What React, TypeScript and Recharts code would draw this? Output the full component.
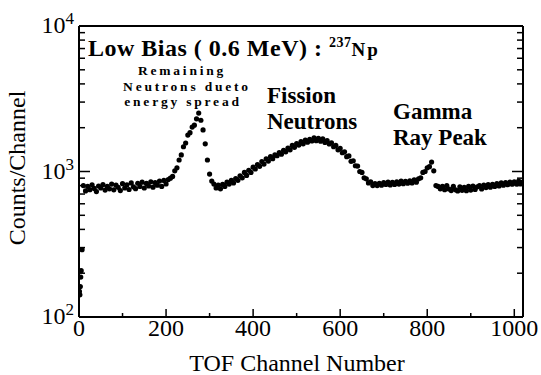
import { Customized, Scatter, ScatterChart, XAxis, YAxis } from "recharts";

// low counts in the first few channels
const edgeChannels = [1, 2, 3, 4, 5, 7];
const edgeCounts = [150, 142, 162, 188, 208, 290];

// counts read every 5 channels; each list starts at its own first channel
const baselineStart = 10;
const baselineCounts = [
  800, 735, 790, 750, 810, 765, 728, 795, 770, 812,
  745, 792, 760, 820, 748, 805, 778, 740, 825, 770,
  808, 752, 835, 785, 762, 830, 790, 845, 770, 828,
  795, 850, 780, 838, 805, 860, 790, 868, 822, 880,
];

const lowPeakStart = 210;
const lowPeakCounts = [
  900, 925, 1010, 1060, 1200, 1300, 1480, 1570, 1780, 1850,
  2020, 2080, 2300, 2520, 2250, 1930, 1550, 1200, 960, 860,
  820, 770, 805, 760,
];

const fissionStart = 330;
const fissionCounts = [
  815, 790, 845, 820, 870, 835, 895, 870, 935, 905,
  985, 940, 1020, 985, 1070, 1040, 1115, 1085, 1170, 1125,
  1220, 1180, 1265, 1225, 1300, 1285, 1350, 1315, 1400, 1365,
  1450, 1410, 1510, 1465, 1555, 1520, 1605, 1550, 1645, 1590,
  1665, 1620, 1705, 1630, 1690, 1615, 1675, 1585, 1630, 1545,
  1575, 1480, 1510, 1410, 1440, 1345, 1365, 1265, 1280, 1175,
  1185, 1095, 1090, 1000, 985, 905, 890, 835, 850, 800,
  825, 800, 830, 805, 838,
];

const gammaStart = 705;
const gammaCounts = [
  815, 845, 808, 842, 815, 850, 820, 858, 825, 855,
  830, 862, 835, 875, 845, 890, 905, 985, 1000, 1060,
  1080, 1160, 1010, 800, 790, 760,
];

const tailStart = 835;
const tailCounts = [
  790, 750, 800, 758, 740, 790, 748, 735, 785, 742,
  778, 738, 790, 745, 795, 752, 785, 800, 758, 805,
  775, 812, 780, 815, 790, 825, 795, 835, 805, 840,
  812, 845, 818, 850, 820, 858, 825, 850,
];

const xTicks = [0, 100, 200, 300, 400, 500, 600, 700, 800, 900, 1000];
const yTicks = [
  100, 200, 300, 400, 500, 600, 700, 800, 900,
  1000, 2000, 3000, 4000, 5000, 6000, 7000, 8000, 9000, 10000,
];

const step = 5;
const points = [
  ...edgeChannels.map((ch, i) => ({ ch, c: edgeCounts[i] })),
  ...[
    [baselineStart, baselineCounts],
    [lowPeakStart, lowPeakCounts],
    [fissionStart, fissionCounts],
    [gammaStart, gammaCounts],
    [tailStart, tailCounts],
  ].flatMap(([start, counts]: any) =>
    counts.map((c: number, i: number) => ({ ch: start + i * step, c }))
  ),
];

const serif = "Liberation Serif, Times New Roman, Times, serif";
const ink = "#000";

const isDecade = (v: number) => Math.abs(Math.log10(v) % 1) < 1e-9;

function BottomTick({ x, y, payload }: any) {
  const major = payload.value % 200 === 0;
  return (
    <g>
      <line x1={x} x2={x} y1={y} y2={y - (major ? 8 : 4)} stroke={ink} strokeWidth={1.5} />
      {major && (
        <text x={x} y={y + 19} textAnchor="middle" style={{ fontFamily: serif, fontSize: 24 }} fill={ink}>
          {payload.value}
        </text>
      )}
    </g>
  );
}

function TopTick({ x, y, payload }: any) {
  const major = payload.value % 200 === 0;
  return <line x1={x} x2={x} y1={y} y2={y + (major ? 8 : 4)} stroke={ink} strokeWidth={1.5} />;
}

function LeftTick({ x, y, payload }: any) {
  const major = isDecade(payload.value);
  return (
    <g>
      <line x1={x} x2={x + (major ? 11 : 6)} y1={y} y2={y} stroke={ink} strokeWidth={1.5} />
      {major && (
        <text x={x - 5} y={y + 7} textAnchor="end" style={{ fontFamily: serif }} fill={ink}>
          <tspan style={{ fontSize: 24 }}>10</tspan>
          <tspan style={{ fontSize: 17 }} dy={-9}>
            {Math.round(Math.log10(payload.value))}
          </tspan>
        </text>
      )}
    </g>
  );
}

function RightTick({ x, y, payload }: any) {
  const major = isDecade(payload.value);
  return <line x1={x} x2={x - (major ? 11 : 6)} y1={y} y2={y} stroke={ink} strokeWidth={1.5} />;
}

function Notes() {
  const bold = { fontFamily: serif, fontWeight: 700 } as const;
  const big = { ...bold, fontSize: 23 };
  const small = { ...bold, fontSize: 13.5, letterSpacing: 2.8 };
  return (
    <g fill={ink}>
      <text x={88} y={56} style={{ ...big, fontSize: 24, letterSpacing: 0.5 }}>
        Low Bias ( 0.6 MeV) :{" "}
        <tspan style={{ fontSize: 14 }} dy={-9}>237</tspan>
        <tspan style={{ fontSize: 19, letterSpacing: 2 }} dy={9}>Np</tspan>
      </text>
      <text textAnchor="middle" style={small}>
        <tspan x={182} y={75}>Remaining</tspan>
        <tspan x={187} y={90.5}>Neutrons dueto</tspan>
        <tspan x={183} y={106}>energy spread</tspan>
      </text>
      <text style={big}>
        <tspan x={267} y={103}>Fission</tspan>
        <tspan x={267} y={129}>Neutrons</tspan>
      </text>
      <text style={big}>
        <tspan x={393} y={119}>Gamma</tspan>
        <tspan x={393} y={145}>Ray Peak</tspan>
      </text>
      <text x={297} y={371} textAnchor="middle" style={{ fontFamily: serif, fontSize: 24 }}>
        TOF Channel Number
      </text>
      <text
        x={0}
        y={0}
        transform="translate(25 168) rotate(-90)"
        textAnchor="middle"
        style={{ fontFamily: serif, fontSize: 24 }}
      >
        Counts/Channel
      </text>
    </g>
  );
}

const axisLine = { stroke: ink, strokeWidth: 2 };

export default function App() {
  return (
    <div style={{ position: "absolute", left: 0, top: 0, width: 541, height: 375, background: "#fff" }}>
      <ScatterChart width={541} height={375} margin={{ top: 25, right: 17, bottom: 57, left: 8 }}>
        <XAxis
          xAxisId="bottom"
          dataKey="ch"
          type="number"
          domain={[0, 1020]}
          allowDataOverflow
          ticks={xTicks}
          interval={0}
          height={1}
          tickSize={0}
          tickMargin={0}
          tickLine={false}
          axisLine={axisLine}
          tick={<BottomTick />}
        />
        <XAxis
          xAxisId="top"
          orientation="top"
          type="number"
          domain={[0, 1020]}
          allowDataOverflow
          ticks={xTicks}
          interval={0}
          height={1}
          tickSize={0}
          tickMargin={0}
          tickLine={false}
          axisLine={axisLine}
          tick={<TopTick />}
        />
        <YAxis
          yAxisId="left"
          dataKey="c"
          type="number"
          scale="log"
          domain={[100, 10000]}
          allowDataOverflow
          ticks={yTicks}
          interval={0}
          width={71}
          tickSize={0}
          tickMargin={0}
          tickLine={false}
          axisLine={axisLine}
          tick={<LeftTick />}
        />
        <YAxis
          yAxisId="right"
          orientation="right"
          type="number"
          scale="log"
          domain={[100, 10000]}
          allowDataOverflow
          ticks={yTicks}
          interval={0}
          width={1}
          tickSize={0}
          tickMargin={0}
          tickLine={false}
          axisLine={axisLine}
          tick={<RightTick />}
        />
        <Scatter
          xAxisId="bottom"
          yAxisId="left"
          data={points}
          fill={ink}
          isAnimationActive={false}
          shape={(p: any) => <circle cx={p.cx} cy={p.cy} r={2.6} fill={ink} />}
        />
        <Customized component={Notes} />
      </ScatterChart>
    </div>
  );
}
